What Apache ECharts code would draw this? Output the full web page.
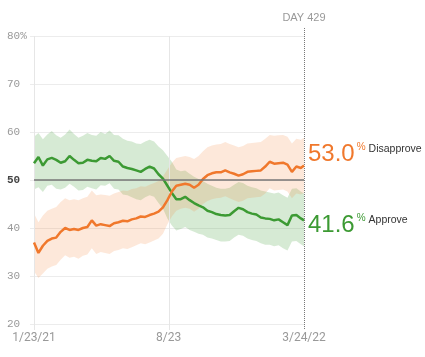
<!DOCTYPE html>
<html><head><meta charset="utf-8">
<script src="https://cdn.jsdelivr.net/npm/echarts@6/dist/echarts.min.js"></script>
<style>html,body{margin:0;padding:0;background:#fff}#c{width:425px;height:357px}</style>
</head><body><div id="c"></div>
<script>
const dates = ['2021-01-23','2021-01-30','2021-02-06','2021-02-13','2021-02-20','2021-02-27','2021-03-06','2021-03-13','2021-03-20','2021-03-27',
'2021-04-03','2021-04-10','2021-04-17','2021-04-24','2021-05-01','2021-05-08','2021-05-15','2021-05-22','2021-05-29','2021-06-05',
'2021-06-12','2021-06-19','2021-06-26','2021-07-03','2021-07-10','2021-07-17','2021-07-24','2021-07-31','2021-08-07','2021-08-14',
'2021-08-21','2021-08-28','2021-09-04','2021-09-11','2021-09-18','2021-09-25','2021-10-02','2021-10-09','2021-10-16','2021-10-23',
'2021-10-30','2021-11-06','2021-11-13','2021-11-20','2021-11-27','2021-12-04','2021-12-11','2021-12-18','2021-12-25','2022-01-01',
'2022-01-08','2022-01-15','2022-01-22','2022-01-29','2022-02-05','2022-02-12','2022-02-19','2022-02-26','2022-03-05','2022-03-12',
'2022-03-19','2022-03-24'];
const approve = [53.5,54.8,53.0,54.3,54.6,54.2,53.6,53.9,55.0,54.2,
53.5,53.6,54.2,54.0,53.9,54.6,54.4,55.0,54.0,53.8,
52.8,52.5,52.3,52.0,51.7,52.3,52.8,52.4,51.2,50.3,
48.8,47.3,46.0,46.0,46.5,45.8,45.2,44.7,44.3,43.6,
43.3,42.9,42.7,42.6,42.7,43.5,44.2,43.9,43.3,43.0,
42.8,42.2,42.0,41.9,41.6,41.8,41.2,40.6,42.6,42.7,
42.0,41.6];
const approveHi = [59.0,59.8,58.5,59.5,60.2,59.3,58.8,59.5,60.5,59.6,
58.8,59.2,59.8,59.4,59.2,60.0,59.6,60.3,59.4,59.3,
58.6,58.2,58.0,57.6,57.5,58.0,58.4,58.0,57.0,56.2,
55.0,53.8,52.2,51.8,52.0,51.3,50.7,50.2,49.8,49.2,
48.8,48.4,48.2,48.2,48.4,49.0,49.6,49.4,48.8,48.5,
48.3,47.8,47.6,47.4,47.2,47.4,46.8,46.3,48.2,48.3,
47.6,47.2];
const approveLo = [48.0,48.5,47.5,48.8,49.0,48.2,48.0,48.4,49.2,48.6,
47.8,47.9,48.6,48.3,48.0,48.9,48.8,49.3,48.2,48.0,
47.0,46.8,46.4,46.0,45.8,46.4,46.8,46.5,45.2,44.0,
42.0,40.5,39.5,39.8,40.2,39.6,39.2,38.8,38.6,38.0,
37.8,37.5,37.2,37.2,37.3,38.0,38.6,38.4,37.8,37.5,
37.3,36.8,36.5,36.5,36.2,36.4,35.8,35.3,37.2,37.3,
36.6,36.2];
const disapprove = [37.0,34.8,36.3,37.3,37.8,38.0,39.2,40.0,39.6,39.8,
39.6,40.0,40.2,41.6,40.5,40.8,40.6,40.4,41.0,41.2,
41.5,41.4,41.8,42.0,42.4,42.3,42.7,43.0,43.4,44.3,
45.8,47.6,48.8,49.0,49.2,49.0,48.4,49.0,50.2,51.0,
51.4,51.6,51.6,52.0,51.6,51.3,50.9,51.2,51.7,51.8,
51.9,52.0,52.8,53.8,53.4,53.5,53.6,53.2,51.7,52.8,
52.5,53.0];
const disapproveHi = [43.0,41.2,42.6,43.6,44.0,44.4,45.4,46.2,45.8,46.0,
45.8,46.2,46.5,47.8,46.8,47.0,46.9,46.7,47.2,47.5,
47.8,47.7,48.1,48.3,48.7,48.6,49.0,49.4,49.8,50.8,
52.2,53.6,54.6,54.8,55.0,54.8,54.4,55.0,56.0,56.8,
57.2,57.4,57.5,57.9,57.5,57.2,56.8,57.1,57.6,57.7,
57.8,57.9,58.6,59.4,59.2,59.3,59.4,59.0,57.6,58.6,
58.4,58.8];
const disapproveLo = [31.0,29.6,30.5,31.5,32.0,32.3,33.4,34.3,33.8,34.0,
33.6,34.2,34.5,35.8,34.6,35.0,34.8,34.6,35.2,35.4,
35.8,35.6,36.0,36.4,36.8,36.6,37.0,37.4,37.8,38.8,
40.8,42.4,43.6,44.0,44.2,44.0,43.4,44.0,45.0,45.6,
46.0,46.2,46.3,46.6,46.2,45.8,45.4,45.7,46.2,46.3,
46.4,46.5,47.2,48.3,47.8,47.9,48.0,47.6,46.2,47.2,
47.0,47.3];
const xTickDates = ['2021-01-23','2021-08-23','2022-03-24'];
const xTickLabels = ['1/23/21','8/23','3/24/22'];
const dayLabel = 'DAY 429';
const seriesNames = ['Approve','Disapprove'];

const GREEN = '#3c9a33', ORANGE = '#f0782c';
const GREEN_BAND = 'rgba(60,154,51,0.21)', ORANGE_BAND = 'rgba(244,130,50,0.18)';
const tp = s => Date.parse(s + 'T00:00:00Z');
const xTicks = xTickDates.map(tp);
const first = xTicks[0], last = xTicks[xTicks.length - 1];

function pairs(v){ return dates.map((d,i)=>[tp(d), v[i]]); }

function bandSeries(hi, lo, color){
  return {
    type:'custom', silent:true, z:1, data:[[first, 50]],
    renderItem:(params, api)=>{
      const up = dates.map((d,i)=>api.coord([tp(d), hi[i]]));
      const dn = dates.map((d,i)=>api.coord([tp(d), lo[i]])).reverse();
      return {type:'polygon', shape:{points:up.concat(dn)}, style:{fill:color}};
    }
  };
}

const refLines = {
  type:'custom', silent:true, z:2, clip:false,
  data:xTicks.map(t=>[t, 50]),
  renderItem:(params, api)=>{
    const x = api.value(0);
    const isLast = params.dataIndex === xTicks.length - 1;
    const p1 = api.coord([x, isLast ? 81.67 : 80]);
    const p2 = api.coord([x, 18.75]);
    const px = Math.round(p1[0]) + 0.5;
    const children = [{
      type:'line', shape:{x1:px, y1:p1[1], x2:px, y2:p2[1]},
      style: isLast ? {stroke:'#777', lineWidth:1, lineDash:[1,1]} : {stroke:'#e6e6e6', lineWidth:1}
    }];
    if (isLast) {
      children.push({type:'text', x:p1[0], y:p1[1]-5,
        style:{text:dayLabel, align:'center', verticalAlign:'bottom', textAlign:'center', textVerticalAlign:'bottom',
               fill:'#999', fontSize:11, fontFamily:'Liberation Sans'}});
    }
    return {type:'group', children};
  }
};

function endLabel(vals, name, color, dy){
  return {show:true, distance:4, offset:[0,dy],
    formatter:()=>'{v|'+vals[vals.length-1].toFixed(1)+'}{p|%}{n|'+name+'}',
    rich:{
      v:{fontSize:24, color:color, fontFamily:'Liberation Sans', lineHeight:26},
      p:{fontSize:10, color:color, fontFamily:'Liberation Sans', verticalAlign:'top', padding:[1,0,0,2]},
      n:{fontSize:10.5, color:'#333', fontFamily:'Liberation Sans', verticalAlign:'top', padding:[2,0,0,3]}
    }};
}

const chart = echarts.init(document.getElementById('c'), null, {renderer:'canvas'});
chart.setOption({
  animation:false,
  grid:{left:34, right:121, top:36, bottom:33, containLabel:false},
  xAxis:{
    type:'value', min:first, max:last,
    axisLine:{show:false},
    splitLine:{show:false},
    axisTick:{show:false},
    axisLabel:{
      customValues:xTicks, margin:8, color:'#999', fontSize:12, fontFamily:'Roboto',
      showMinLabel:true, showMaxLabel:true,
      formatter:v=>{ for(let i=0;i<xTicks.length;i++){ if(Math.abs(v-xTicks[i])<4e7) return xTickLabels[i]; } return ''; }
    }
  },
  yAxis:{
    type:'value', min:20, max:80, interval:10,
    axisLine:{show:false},
    axisTick:{show:true, length:4, lineStyle:{color:'#ececec'}},
    splitLine:{lineStyle:{color:'#ececec', width:1}},
    axisLabel:{
      align:'left', margin:27, color:'#999', fontSize:11, fontFamily:'Liberation Mono',
      formatter:v=> v===80 ? '80%' : (v===50 ? '{b|50}' : String(v)),
      rich:{b:{color:'#444', fontSize:11, fontFamily:'Liberation Mono', fontWeight:'bold'}}
    }
  },
  series:[
    bandSeries(approveHi, approveLo, GREEN_BAND),
    bandSeries(disapproveHi, disapproveLo, ORANGE_BAND),
    refLines,
    {name:seriesNames[0], type:'line', data:pairs(approve), symbol:'none', z:3,
     lineStyle:{color:GREEN, width:2.5},
     markLine:{silent:true, symbol:['none','none'], animation:false, label:{show:false},
       data:[{yAxis:50, lineStyle:{color:'#777', width:1.5, type:'solid'}}]},
     endLabel:endLabel(approve, seriesNames[0], GREEN, 5)},
    {name:seriesNames[1], type:'line', data:pairs(disapprove), symbol:'none', z:4,
     lineStyle:{color:ORANGE, width:2.5},
     endLabel:endLabel(disapprove, seriesNames[1], ORANGE, -11)}
  ]
});
</script></body></html>
